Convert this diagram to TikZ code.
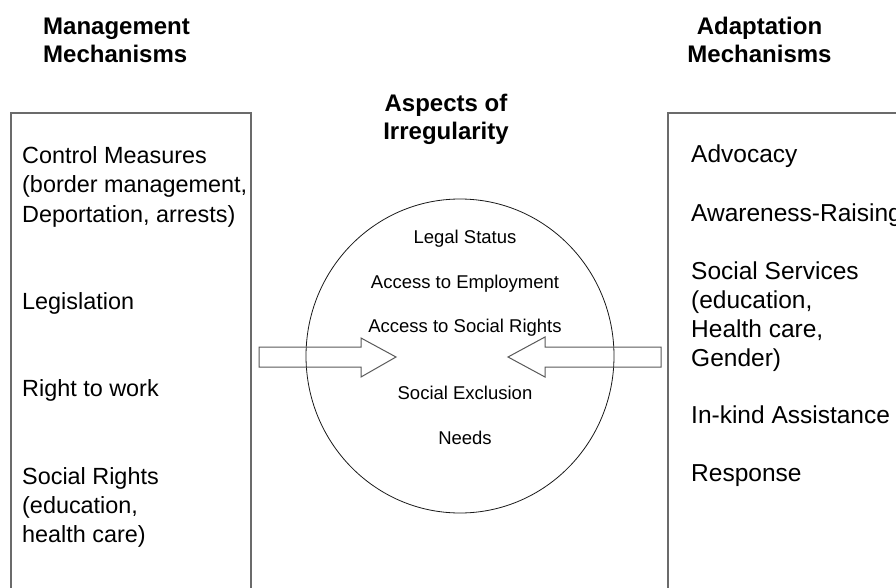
\documentclass[tikz,border=0pt]{standalone}
\usepackage{fontspec}
\setmainfont{Liberation Sans}
\begin{document}
\begin{tikzpicture}[x=1pt,y=-1pt,
  boxline/.style={draw=black!58, line width=1.6pt},
  ringline/.style={draw=black!90, line width=0.8pt},
  hollow/.style={draw=black!65, line width=1pt, line join=miter},
  heading/.style={font=\fontsize{24}{28}\selectfont\bfseries, inner sep=0pt, anchor=base},
  headleft/.style={heading, anchor=base west},
  item/.style={font=\fontsize{23.4}{29}\selectfont, inner sep=0pt, anchor=base west},
  ritem/.style={item, font=\fontsize{24.5}{29}\selectfont},
  aspect/.style={font=\fontsize{18.5}{22}\selectfont, inner sep=0pt, anchor=base}]
\useasboundingbox (0,0) rectangle (896,588);
\clip (0,0) rectangle (896,588);

% column headings
\node[headleft] (mgmtA) at (43,35) {Management};
\node[headleft] (mgmtB) at (43,63) {Mechanisms};
\node[heading] (adaptA) at (759.5,35) {Adaptation};
\node[heading] (adaptB) at (759.5,63) {Mechanisms};
\node[heading] (aspA) at (446,112) {Aspects of};
\node[heading] (aspB) at (446,140) {Irregularity};

% the two side boxes run off the page
\draw[boxline] (11,620) -- (11,113) -- (251,113) -- (251,620);
\draw[boxline] (668,620) -- (668,113) -- (930,113);

% left box: management mechanisms
\node[item] (ctrl1) at (22,164) {Control Measures};
\node[item] (ctrl2) at (22,193) {(border management,};
\node[item] (ctrl3) at (22,222) {Deportation, arrests)};
\node[item] (legis) at (22,309) {Legislation};
\node[item] (work)  at (22,396) {Right to work};
\node[item] (soc1)  at (22,484) {Social Rights};
\node[item] (soc2)  at (22,513) {(education,};
\node[item] (soc3)  at (22,542) {health care)};

% right box: adaptation mechanisms
\node[ritem] (advoc) at (691,163) {Advocacy};
\node[ritem] (aware) at (691,221) {Awareness-Raising};
\node[ritem] (serv1) at (691,279) {Social Services};
\node[ritem] (serv2) at (691,308) {(education,};
\node[ritem] (serv3) at (691,337) {Health care,};
\node[ritem] (serv4) at (691,366) {Gender)};
\node[ritem] (kind)  at (691,423) {In-kind Assistance};
\node[ritem] (resp)  at (691,481) {Response};

% central circle of aspects
\draw[ringline] (460,356) ellipse [x radius=154, y radius=157];
\node[aspect] (legal) at (465,243) {Legal Status};
\node[aspect] (empl)  at (465,288) {Access to Employment};
\node[aspect] (right) at (465,332) {Access to Social Rights};
\node[aspect] (excl)  at (465,399) {Social Exclusion};
\node[aspect] (needs) at (465,444) {Needs};

% hollow block arrows pointing into the circle
\draw[hollow] (259,347) -- (361,347) -- (361,338) -- (396,357)
  -- (361,377) -- (361,367) -- (259,367) -- cycle;
\draw[hollow] (661,347) -- (545,347) -- (545,337) -- (508,357)
  -- (545,377) -- (545,367) -- (661,367) -- cycle;
\end{tikzpicture}
\end{document}
